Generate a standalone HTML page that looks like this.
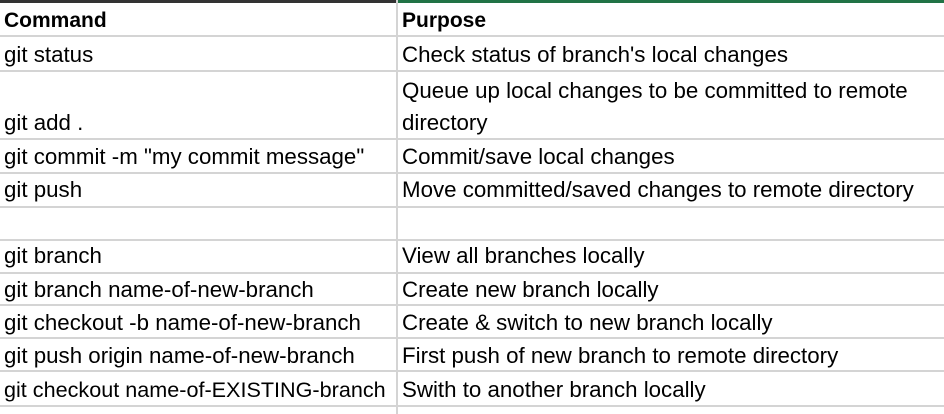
<!DOCTYPE html>
<html><head><meta charset="utf-8"><style>
body{margin:0;width:944px;height:414px;background:#fff;position:relative;overflow:hidden;font-family:"Liberation Sans",sans-serif;font-size:22.3px;color:#000}
.h{position:absolute;left:0;width:944px;height:2px;background:#d4d4d4}
.v{position:absolute;top:0;height:414px;width:2px;background:#d4d4d4;left:396px}
.t{position:absolute;white-space:nowrap;line-height:24px}
.c1{left:4px}.c2{left:402px}
b{font-weight:bold;font-size:21px}
</style></head><body>
<div style="position:absolute;left:0;top:0;width:396px;height:3px;background:#333"></div>
<div style="position:absolute;left:396px;top:0;width:548px;height:3px;background:#217346"></div>
<div class="v"></div>
<div class="h" style="top:35px"></div>
<div class="h" style="top:70px"></div>
<div class="h" style="top:138px"></div>
<div class="h" style="top:172px"></div>
<div class="h" style="top:206px"></div>
<div class="h" style="top:239px"></div>
<div class="h" style="top:272px"></div>
<div class="h" style="top:304px"></div>
<div class="h" style="top:337px"></div>
<div class="h" style="top:370px"></div>
<div class="h" style="top:405px"></div>

<div class="t c1" style="top:8px"><b>Command</b></div><div class="t c2" style="top:8px"><b>Purpose</b></div>
<div class="t c1" style="top:43px">git status</div><div class="t c2" style="top:43px">Check status of branch's local changes</div>
<div class="t c2" style="top:79px">Queue up local changes to be committed to remote</div>
<div class="t c1" style="top:111px">git add .</div><div class="t c2" style="top:111px">directory</div>
<div class="t c1" style="top:145px">git commit -m "my commit message"</div><div class="t c2" style="top:145px">Commit/save local changes</div>
<div class="t c1" style="top:178px">git push</div><div class="t c2" style="top:178px">Move committed/saved changes to remote directory</div>
<div class="t c1" style="top:244px">git branch</div><div class="t c2" style="top:244px">View all branches locally</div>
<div class="t c1" style="top:278px">git branch name-of-new-branch</div><div class="t c2" style="top:278px">Create new branch locally</div>
<div class="t c1" style="top:311px">git checkout -b name-of-new-branch</div><div class="t c2" style="top:311px">Create &amp; switch to new branch locally</div>
<div class="t c1" style="top:344px">git push origin name-of-new-branch</div><div class="t c2" style="top:344px">First push of new branch to remote directory</div>
<div class="t c1" style="top:378px;font-size:21.6px">git checkout name-of-EXISTING-branch</div><div class="t c2" style="top:378px">Swith to another branch locally</div>
</body></html>
